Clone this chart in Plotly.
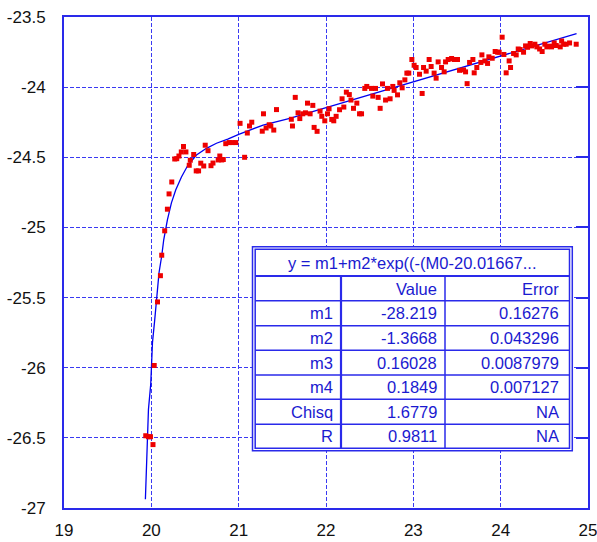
import plotly.graph_objects as go

# ---------------- data ----------------
pts_x = [19.936, 19.967, 19.990, 20.019, 20.033, 20.071, 20.104, 20.119, 20.153, 20.184,
         20.203, 20.234, 20.268, 20.291, 20.316, 20.343, 20.368, 20.396, 20.434, 20.446,
         20.485, 20.514, 20.541, 20.566, 20.600, 20.617, 20.649, 20.683, 20.706, 20.766,
         20.784, 20.806, 20.824, 20.852, 20.892, 20.927, 20.967, 21.016, 21.068, 21.099,
         21.124, 21.150, 21.270, 21.284, 21.314, 21.350, 21.368, 21.402, 21.433, 21.603,
         21.616, 21.648, 21.680, 21.700, 21.734, 21.765, 21.788, 21.818, 21.849, 21.864,
         21.898, 21.932, 21.952, 21.986, 22.017, 22.035, 22.066, 22.089, 22.116, 22.155,
         22.184, 22.204, 22.233, 22.267, 22.286, 22.315, 22.353, 22.384, 22.407, 22.444,
         22.467, 22.521, 22.536, 22.567, 22.597, 22.620, 22.647, 22.682, 22.704, 22.734,
         22.765, 22.780, 22.819, 22.845, 22.872, 22.903, 22.926, 22.948, 22.983, 23.009,
         23.032, 23.071, 23.101, 23.117, 23.147, 23.181, 23.204, 23.238, 23.261, 23.284,
         23.323, 23.353, 23.369, 23.399, 23.438, 23.467, 23.506, 23.529, 23.575, 23.598,
         23.616, 23.644, 23.682, 23.697, 23.727, 23.773, 23.785, 23.819, 23.850, 23.865,
         23.903, 23.937, 23.965, 23.983, 24.017, 24.037, 24.063, 24.097, 24.113, 24.148,
         24.178, 24.201, 24.223, 24.262, 24.285, 24.308, 24.338, 24.357, 24.392, 24.415,
         24.446, 24.475, 24.506, 24.529, 24.560, 24.583, 24.613, 24.636, 24.682, 24.698,
         24.721, 24.750, 24.789, 24.865]
pts_y = [-26.485, -26.492, -26.492, -26.548, -25.984, -25.531, -25.344, -25.198, -25.024, -24.870,
         -24.761, -24.676, -24.512, -24.510, -24.491, -24.462, -24.423, -24.462, -24.557, -24.521,
         -24.480, -24.597, -24.597, -24.542, -24.562, -24.414, -24.453, -24.560, -24.541, -24.519,
         -24.491, -24.519, -24.516, -24.403, -24.395, -24.395, -24.395, -24.258, -24.500, -24.327,
         -24.277, -24.250, -24.314, -24.190, -24.291, -24.268, -24.277, -24.306, -24.160, -24.229,
         -24.277, -24.073, -24.183, -24.224, -24.190, -24.183, -24.114, -24.190, -24.130, -24.287,
         -24.315, -24.171, -24.208, -24.240, -24.190, -24.154, -24.230, -24.240, -24.208, -24.161,
         -24.083, -24.142, -24.036, -24.053, -24.092, -24.151, -24.114, -24.190, -24.190, -24.009,
         -23.995, -24.009, -24.064, -24.009, -24.073, -24.151, -23.977, -24.092, -24.009, -24.083,
         -23.995, -24.023, -24.055, -23.969, -24.005, -23.948, -23.900, -23.900, -23.803, -23.844,
         -23.860, -23.908, -24.045, -23.860, -23.886, -23.803, -23.853, -23.900, -23.936, -23.820,
         -23.860, -23.891, -23.820, -23.803, -23.796, -23.803, -23.803, -23.880, -23.877, -23.891,
         -23.975, -23.824, -23.803, -23.898, -23.860, -23.824, -23.770, -23.813, -23.831, -23.784,
         -23.794, -23.746, -23.751, -23.751, -23.644, -23.767, -23.898, -23.813, -23.860, -23.760,
         -23.770, -23.728, -23.732, -23.751, -23.706, -23.716, -23.689, -23.706, -23.694, -23.713,
         -23.728, -23.746, -23.694, -23.713, -23.708, -23.713, -23.685, -23.703, -23.713, -23.671,
         -23.694, -23.694, -23.685, -23.694]

fit_x = [19.932, 19.944, 19.967, 19.993, 20.013, 20.039, 20.058, 20.088, 20.119, 20.142,
         20.184, 20.230, 20.279, 20.345, 20.420, 20.517, 20.631, 20.746, 20.875, 21.001,
         21.280, 21.585, 22.273, 22.998, 23.762, 24.869]
fit_y = [-26.937, -26.689, -26.298, -26.119, -25.821, -25.657, -25.515, -25.323, -25.202, -25.088,
         -24.946, -24.825, -24.733, -24.640, -24.555, -24.484, -24.436, -24.400, -24.370, -24.336,
         -24.270, -24.223, -24.096, -23.962, -23.822, -23.618]

x_ticks = [19, 20, 21, 22, 23, 24, 25]
x_tick_labels = ["19", "20", "21", "22", "23", "24", "25"]
y_ticks = [-27, -26.5, -26, -25.5, -25, -24.5, -24, -23.5]
y_tick_labels = ["-27", "-26.5", "-26", "-25.5", "-25", "-24.5", "-24", "-23.5"]

fit_title = "y = m1+m2*exp((-(M0-20.01667..."
col_headers = ["", "Value", "Error"]
row_names = ["m1", "m2", "m3", "m4", "Chisq", "R"]
row_values = ["-28.219", "-1.3668", "0.16028", "0.1849", "1.6779", "0.9811"]
row_errors = ["0.16276", "0.043296", "0.0087979", "0.007127", "NA", "NA"]

# ---------------- styling ----------------
W, H = 597, 542
ML, MR, MT, MB = 64, 9, 17, 34
PW, PH = W - ML - MR, H - MT - MB
BLUE = "#2a2aea"
GRID = "#3a3af2"
TXT_BLUE = "#1a1ad0"
FONT = "Liberation Sans, Arial, sans-serif"


def px(xp):
    return (xp - ML) / PW


def py(yp):
    return (H - MB - yp) / PH


fig = go.Figure()
fig.add_trace(go.Scatter(x=fit_x, y=fit_y, mode="lines",
                         line=dict(color="#0000f0", width=1.3),
                         showlegend=False, hoverinfo="skip"))
fig.add_trace(go.Scatter(x=pts_x, y=pts_y, mode="markers",
                         marker=dict(symbol="square", size=5, color="#ee0000",
                                     line=dict(width=0)),
                         showlegend=False))
# invisible trace to carry the right-side tick axis
fig.add_trace(go.Scatter(x=fit_x, y=fit_y, yaxis="y2", mode="lines",
                         opacity=0, showlegend=False, hoverinfo="skip"))

axis_common = dict(showline=True, linecolor=BLUE, linewidth=2, mirror=True,
                   showgrid=True, gridcolor=GRID, gridwidth=1, griddash="4px,2px",
                   zeroline=False, ticks="", automargin=False, ticklabeloverflow="allow",
                   tickfont=dict(family=FONT, size=17, color="#111111"))

fig.update_layout(
    template="none",
    width=W, height=H,
    margin=dict(l=ML, r=MR, t=MT, b=MB, pad=0, autoexpand=False),
    paper_bgcolor="white", plot_bgcolor="white",
    xaxis=dict(range=[19, 25], tickvals=x_ticks, ticktext=x_tick_labels,
               ticklabelstandoff=6, **axis_common),
    yaxis=dict(range=[-27, -23.5], tickvals=y_ticks, ticktext=y_tick_labels,
               ticklabelstandoff=13, **axis_common),
    yaxis2=dict(range=[-27, -23.5], tickvals=y_ticks, overlaying="y", side="right",
                showticklabels=False, showgrid=False, zeroline=False, showline=False,
                automargin=False,
                ticks="inside", ticklen=12, tickwidth=2, tickcolor=BLUE),
)

# ---------------- fit-results table ----------------
shapes = []
shapes.append(dict(type="rect", xref="paper", yref="paper", layer="above",
                   x0=px(252.5), x1=px(572.3), y0=py(450.7), y1=py(246.7),
                   fillcolor="white", line=dict(color=BLUE, width=1.5)))
shapes.append(dict(type="rect", xref="paper", yref="paper", layer="above",
                   x0=px(255.2), x1=px(569.5), y0=py(448.3), y1=py(249.3),
                   line=dict(color=BLUE, width=1.5)))
row_lines = [276.0, 300.7, 325.7, 350.3, 375.0, 399.3, 424.3]
for i, yl in enumerate(row_lines):
    shapes.append(dict(type="line", xref="paper", yref="paper", layer="above",
                       x0=px(255.2), x1=px(569.5), y0=py(yl), y1=py(yl),
                       line=dict(color=BLUE, width=2.2 if i == 0 else 1.5)))
for xl, wl in [(341.0, 2.2), (445.0, 1.5)]:
    shapes.append(dict(type="line", xref="paper", yref="paper", layer="above",
                       x0=px(xl), x1=px(xl), y0=py(276.0), y1=py(448.3),
                       line=dict(color=BLUE, width=wl)))
fig.update_layout(shapes=shapes)

ann = []
tfont = dict(family=FONT, size=16.5, color=TXT_BLUE)
ann.append(dict(text=fit_title, xref="paper", yref="paper", x=px(412), y=py(262.8),
                xanchor="center", yanchor="middle", showarrow=False, font=tfont))
row_centers = [288.6, 313.2, 338.0, 362.6, 387.0, 411.6, 436.0]
col_right = [334.5, 438.5, 561.0]
for c, htxt in enumerate(col_headers):
    if htxt:
        ann.append(dict(text=htxt, xref="paper", yref="paper", x=px(col_right[c]),
                        y=py(row_centers[0]), xanchor="right", yanchor="middle",
                        showarrow=False, font=tfont))
for r in range(len(row_names)):
    for c, txt in enumerate([row_names[r], row_values[r], row_errors[r]]):
        ann.append(dict(text=txt, xref="paper", yref="paper", x=px(col_right[c]),
                        y=py(row_centers[r + 1]), xanchor="right", yanchor="middle",
                        showarrow=False, font=tfont))
fig.update_layout(annotations=ann)

fig.write_html(
    "out.html",
    config={"displayModeBar": False},
    post_script="document.body.style.margin='0';document.body.style.overflow='hidden';",
)
